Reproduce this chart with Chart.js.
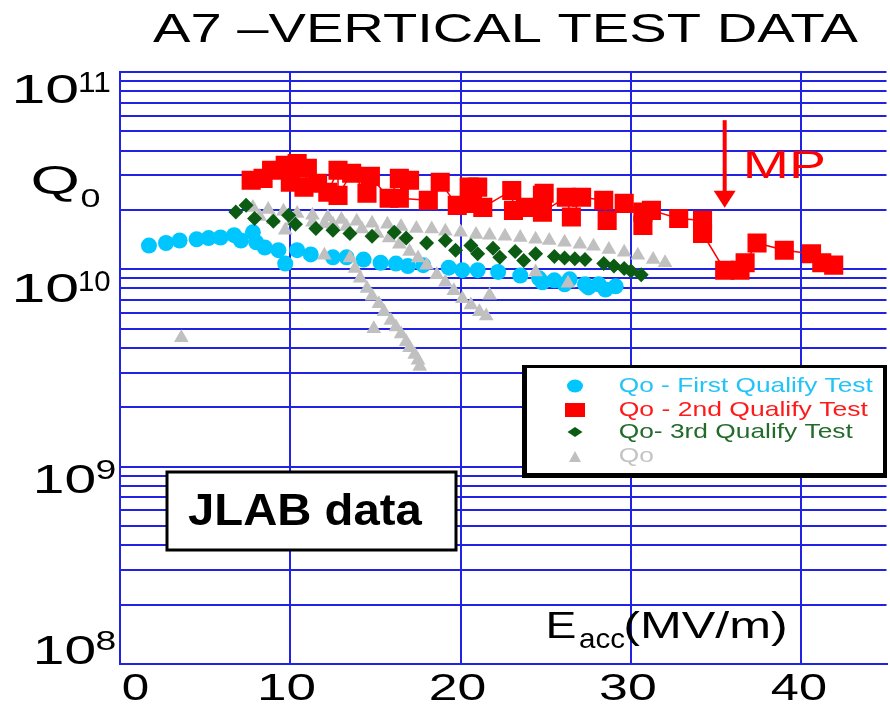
<!DOCTYPE html>
<html lang="en">
<head>
<meta charset="UTF-8">
<title>A7 - Vertical Test Data</title>
<style>
  html, body { margin: 0; padding: 0; background: #fff; overflow: hidden; }
  #wrap { width: 900px; height: 705px; }
</style>
</head>
<body>
<div id="wrap"><canvas id="qChart" width="900" height="705"></canvas></div>

<script src="https://cdn.jsdelivr.net/npm/chart.js"></script>
<script>
// Eacc (MV/m) and Q0 for each test
const firstE = [1.7, 2.7, 3.5, 4.5, 5.2, 5.9, 6.7, 7.1, 7.8, 8.0, 8.5, 9.3, 9.7, 10.4, 11.2, 12.5, 13.3,
  14.3, 15.3, 16.2, 16.9, 17.8, 19.3, 20.1, 21.0, 22.2, 23.5, 24.6, 25.5, 26.4, 27.3, 28.1, 29.1,
  24.8, 26.1, 27.5, 28.5];
const firstQ = [1.32e10, 1.36e10, 1.40e10, 1.42e10, 1.44e10, 1.45e10, 1.49e10, 1.40e10, 1.54e10, 1.37e10,
  1.29e10, 1.25e10, 1.07e10, 1.25e10, 1.19e10, 1.15e10, 1.15e10, 1.12e10, 1.08e10, 1.07e10, 1.04e10,
  1.05e10, 1.02e10, 9.9e9, 9.9e9, 9.7e9, 9.3e9, 9.0e9, 8.8e9, 8.9e9, 8.4e9, 8.4e9, 8.2e9,
  8.6e9, 8.4e9, 8.1e9, 7.9e9];

const secondE = [7.7, 8.4, 8.9, 9.7, 10.0, 10.4, 11.0, 10.8, 11.6, 12.2, 12.8, 12.8, 13.6, 14.5, 14.7,
  15.8, 16.4, 17.0, 16.4, 18.1, 18.8, 19.8, 20.5, 21.0, 20.7, 21.3, 23.0, 23.1, 23.8, 24.8, 24.9, 24.8,
  26.2, 26.5, 27.1, 28.4, 28.6, 29.6, 30.7, 30.7, 31.2, 32.8, 34.2, 34.2, 35.5, 36.4, 36.7, 37.4, 39.0,
  40.6, 41.2, 41.9];
const secondQ = [2.83e10, 2.89e10, 3.18e10, 3.37e10, 2.76e10, 3.44e10, 3.25e10, 2.61e10, 2.73e10, 2.46e10,
  3.18e10, 2.37e10, 3.07e10, 2.43e10, 2.96e10, 2.29e10, 2.89e10, 2.83e10, 2.29e10, 2.24e10, 2.76e10,
  2.11e10, 2.61e10, 2.61e10, 2.16e10, 2.06e10, 2.51e10, 1.99e10, 2.06e10, 2.37e10, 2.43e10, 1.95e10,
  2.32e10, 1.84e10, 2.32e10, 2.24e10, 1.77e10, 2.16e10, 1.95e10, 1.67e10, 1.99e10, 1.81e10, 1.77e10,
  1.52e10, 9.9e9, 9.9e9, 1.08e10, 1.36e10, 1.25e10, 1.20e10, 1.08e10, 1.05e10];

const thirdE = [6.8, 7.4, 7.9, 9.0, 9.9, 10.3, 11.5, 12.5, 13.5, 14.8, 16.1, 16.8, 18.0, 19.1, 19.7, 20.6,
  21.0, 21.9, 22.3, 23.2, 23.7, 24.4, 25.5, 26.1, 26.7, 27.3, 28.4, 29.0, 29.6, 30.0, 30.6];
const thirdQ = [1.95e10, 2.11e10, 1.81e10, 1.75e10, 1.88e10, 1.69e10, 1.61e10, 1.58e10, 1.52e10, 1.47e10,
  1.54e10, 1.44e10, 1.36e10, 1.40e10, 1.25e10, 1.32e10, 1.20e10, 1.28e10, 1.15e10, 1.23e10, 1.11e10,
  1.20e10, 1.16e10, 1.14e10, 1.13e10, 1.12e10, 1.07e10, 1.04e10, 1.01e10, 9.8e9, 9.4e9];

// earlier runs: flat band, two quench curves, a few stray points
const grayE = [7.8, 8.7, 9.6, 10.4, 11.3, 12.2, 13.0, 13.9, 14.8, 15.7, 16.5, 17.4, 18.3, 19.1, 20.0, 20.9,
  21.7, 22.6, 23.5, 24.4, 25.2, 26.1, 27.0, 27.8, 28.7, 29.6, 30.4, 31.3, 32.0,
  8.2, 9.0, 10.1, 11.3, 12.0,
  12.5, 13.3, 14.2, 15.1, 15.8, 16.4, 17.0, 17.5, 18.0, 18.6, 19.1, 19.6, 20.1, 20.6, 21.1, 21.5,
  13.5, 13.8, 14.1, 14.5, 14.8, 15.2, 15.5, 15.9, 16.2, 16.5, 16.8, 17.0, 17.3, 17.5, 17.6,
  3.6, 9.7, 12.0, 14.9, 21.7, 24.4, 26.3];
const grayQ = [2.06e10, 2.01e10, 1.97e10, 1.92e10, 1.88e10, 1.84e10, 1.79e10, 1.75e10, 1.71e10, 1.69e10,
  1.65e10, 1.61e10, 1.60e10, 1.56e10, 1.54e10, 1.50e10, 1.49e10, 1.47e10, 1.45e10, 1.42e10, 1.40e10,
  1.37e10, 1.34e10, 1.31e10, 1.26e10, 1.22e10, 1.18e10, 1.12e10, 1.08e10,
  1.85e10, 1.79e10, 1.75e10, 1.73e10, 1.70e10,
  1.69e10, 1.65e10, 1.60e10, 1.52e10, 1.44e10, 1.34e10, 1.23e10, 1.14e10, 1.05e10, 9.4e9, 8.6e9, 7.8e9,
  7.1e9, 6.6e9, 6.1e9, 5.8e9,
  1.14e10, 1.01e10, 9.0e9, 8.0e9, 7.3e9, 6.7e9, 6.1e9, 5.5e9, 5.1e9, 4.7e9, 4.3e9, 4.0e9, 3.7e9, 3.46e9, 3.22e9,
  4.5e9, 1.58e10, 1.18e10, 5.0e9, 7.4e9, 9.7e9, 8.5e9];

const seriesLabels = ['Qo - First Qualify Test', 'Qo - 2nd Qualify Test', 'Qo- 3rd Qualify Test', 'Qo'];
const xTicks = [0, 10, 20, 30, 40];
const decades = [8, 9, 10, 11];
// multipacting onset marker: Eacc and the Q range the arrow spans
const mpE = 35.5;
const mpQ = [5.7e10, 2.05e10];

const gridBlue = '#2222e4';
const FONT = '"Liberation Sans", Arial, sans-serif';

const yTicks = [];
decades.forEach(e => {
  if (e === decades[decades.length - 1]) { yTicks.push(Math.pow(10, e)); return; }
  for (let m = 1; m <= 9; m++) yTicks.push(m * Math.pow(10, e));
});

const toPoints = (xs, ys) => xs.map((x, i) => ({ x, y: ys[i] }));

// draw text so its ink spans left..right (the lettering is wide)
function fitText(ctx, str, left, right, base, size, color, weight) {
  ctx.save();
  ctx.font = (weight || 'normal') + ' ' + size + 'px ' + FONT;
  ctx.textAlign = 'left';
  ctx.textBaseline = 'alphabetic';
  const m = ctx.measureText(str);
  const ink = m.actualBoundingBoxLeft + m.actualBoundingBoxRight;
  ctx.translate(left, base);
  ctx.scale((right - left) / ink, 1);
  ctx.fillStyle = color;
  ctx.fillText(str, m.actualBoundingBoxLeft, 0);
  ctx.restore();
}

function legendMark(ctx, style, x, y, color) {
  ctx.fillStyle = color;
  ctx.beginPath();
  if (style === 'circle') ctx.ellipse(x, y, 8, 6.5, 0, 0, Math.PI * 2);
  else if (style === 'rect') ctx.rect(x - 10, y - 7, 20, 14);
  else if (style === 'rectRot') { ctx.moveTo(x, y - 5); ctx.lineTo(x + 7.5, y); ctx.lineTo(x, y + 5); ctx.lineTo(x - 7.5, y); }
  else { ctx.moveTo(x, y - 6); ctx.lineTo(x + 6, y + 5); ctx.lineTo(x - 6, y + 5); }
  ctx.closePath();
  ctx.fill();
}

const overlay = {
  id: 'overlay',
  afterDraw(chart) {
    const ctx = chart.ctx;
    const xs = chart.scales.x, ys = chart.scales.y;

    // title and axis names
    fitText(ctx, 'A7 \u2013VERTICAL TEST DATA', 153, 858, 42, 40.5, '#000');
    fitText(ctx, 'Q', 32, 78, 194, 40, '#000');
    fitText(ctx, '0', 82, 100, 207, 26, '#000');
    fitText(ctx, 'E', 548, 575, 638, 36, '#000');
    fitText(ctx, 'acc', 580, 625, 648, 28, '#000');
    fitText(ctx, '(MV/m)', 626, 785, 638, 36, '#000');

    // y decade labels 10^n
    const drop = { 11: 31, 10: 33, 9: 26, 8: 0 };
    decades.forEach(e => {
      const py = ys.getPixelForValue(Math.pow(10, e));
      const base = py + drop[e];
      const wide = e >= 10;
      fitText(ctx, '10', wide ? 16 : 37, wide ? 78 : 95, base, 41, '#000');
      fitText(ctx, String(e), wide ? 80 : 97, wide ? 110 : 115, base - (wide ? 11 : 14), wide ? 30 : 27, '#000');
    });

    // x tick labels
    xTicks.forEach(v => {
      const w = v === 0 ? 25 : 55;
      let left = xs.getPixelForValue(v) - 3 - w / 2;
      if (left < xs.left + 3) left = xs.left + 3;
      fitText(ctx, String(v), left, left + w, 700, 37.5, '#000');
    });

    // MP arrow
    const ax = xs.getPixelForValue(mpE);
    const ay0 = ys.getPixelForValue(mpQ[0]);
    const ay1 = ys.getPixelForValue(mpQ[1]);
    ctx.save();
    ctx.strokeStyle = '#ff0000';
    ctx.fillStyle = '#ff0000';
    ctx.lineWidth = 4;
    ctx.beginPath();
    ctx.moveTo(ax, ay0);
    ctx.lineTo(ax, ay1 - 14);
    ctx.stroke();
    ctx.beginPath();
    ctx.moveTo(ax - 11, ay1 - 17);
    ctx.lineTo(ax + 11, ay1 - 17);
    ctx.lineTo(ax, ay1);
    ctx.closePath();
    ctx.fill();
    ctx.restore();
    fitText(ctx, 'MP', 747, 823, 178, 39, '#ff0000');

    // JLAB box
    ctx.save();
    ctx.fillStyle = '#fff';
    ctx.fillRect(167, 472, 289, 78);
    ctx.strokeStyle = '#000';
    ctx.lineWidth = 3;
    ctx.strokeRect(167, 472, 289, 78);
    ctx.restore();
    fitText(ctx, 'JLAB data', 188, 423, 525, 44.5, '#000', 'bold');

    // legend box with shadowed frame
    ctx.save();
    ctx.fillStyle = '#000';
    ctx.fillRect(522, 365, 365, 113);
    ctx.fillStyle = '#fff';
    ctx.fillRect(527, 368, 356, 105);
    ctx.restore();
    const rowBase = [392, 416, 438, 462];
    const rowRight = [873, 868, 853, 653];
    const markY = [386, 410, 432, 457];
    chart.data.datasets.forEach((ds, i) => {
      legendMark(ctx, ds.pointStyle, 575, markY[i], ds.backgroundColor);
      fitText(ctx, ds.label, 620, rowRight[i], rowBase[i], 21, ds.legendText, 'normal');
    });
  }
};

new Chart(document.getElementById('qChart'), {
  type: 'scatter',
  data: {
    datasets: [
      {
        label: seriesLabels[0], data: toPoints(firstE, firstQ),
        pointStyle: 'circle', pointRadius: 8, backgroundColor: '#00c6ff',
        pointBorderWidth: 0, legendText: '#22c4f8', order: 3
      },
      {
        label: seriesLabels[1], data: toPoints(secondE, secondQ),
        pointStyle: 'rect', pointRadius: 13.5, backgroundColor: '#ff0000',
        showLine: true, borderColor: '#ff0000', borderWidth: 1.5,
        pointBorderWidth: 0, legendText: '#ff1a1a', order: 0
      },
      {
        label: seriesLabels[2], data: toPoints(thirdE, thirdQ),
        pointStyle: 'rectRot', pointRadius: 7.5, backgroundColor: '#0b5c12',
        pointBorderWidth: 0, legendText: '#236b2b', order: 1
      },
      {
        label: seriesLabels[3], data: toPoints(grayE, grayQ),
        pointStyle: 'triangle', pointRadius: 8.5, backgroundColor: '#c0c0c0',
        pointBorderWidth: 0, legendText: '#c4c4c4', order: 2
      }
    ]
  },
  options: {
    responsive: false,
    animation: false,
    devicePixelRatio: 1,
    layout: { padding: { left: 120, top: 72, right: 3.75, bottom: 41 } },
    plugins: { legend: { display: false }, tooltip: { enabled: false }, title: { display: false } },
    scales: {
      x: {
        type: 'linear', min: 0, max: 45,
        afterBuildTicks: s => { s.ticks = xTicks.map(v => ({ value: v })); },
        ticks: { display: false },
        grid: { color: gridBlue, lineWidth: 2, drawTicks: false },
        border: { color: gridBlue, width: 2 }
      },
      y: {
        type: 'logarithmic', min: 1e8, max: 1e11,
        afterBuildTicks: s => { s.ticks = yTicks.map(v => ({ value: v })); },
        ticks: { display: false },
        grid: { color: gridBlue, lineWidth: 2, drawTicks: false },
        border: { color: gridBlue, width: 2 }
      }
    }
  },
  plugins: [overlay]
});
</script>
</body>
</html>
